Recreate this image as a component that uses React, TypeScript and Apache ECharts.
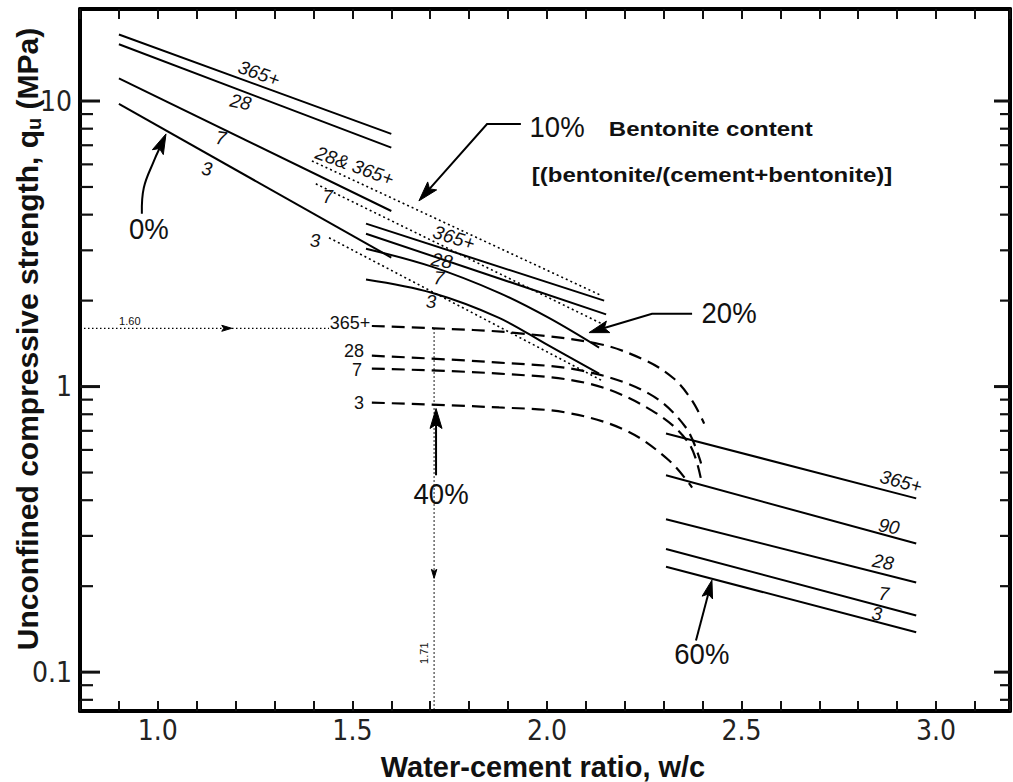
import React, { useEffect, useRef } from 'react';
import * as echarts from 'echarts';

// ---- axis extents & ticks ----
const X_MIN = 0.8;
const X_MAX = 3.19;
const Y_MIN = 0.0731;
const Y_MAX = 21;
const Y_MAJOR = [0.1, 1, 10];
const Y_MINOR = [0.08, 0.09, 0.2, 0.3, 0.4, 0.5, 0.6, 0.7, 0.8, 0.9, 2, 3, 4, 5, 6, 7, 8, 9];

// ---- 0 % bentonite (solid) ----
const b0_365 = [[0.90, 17.1], [1.60, 7.67]];
const b0_28 = [[0.90, 15.8], [1.60, 6.87]];
const b0_7 = [[0.90, 12.0], [1.60, 4.12]];
const b0_3 = [[0.90, 9.77], [1.60, 2.83]];

// ---- 10 % bentonite (dotted) ----
const b10_28_365 = [[1.396, 6.17], [2.141, 2.08]];
const b10_7 = [[1.406, 5.13], [2.141, 1.66]];
const b10_3 = [[1.44, 3.32], [2.141, 1.05]];

// ---- 20 % bentonite (solid) ----
const b20_365 = [[1.535, 3.72], [2.147, 2.0]];
const b20_28 = [[1.535, 3.43], [2.152, 1.79]];
const b20_7 = [[1.535, 3.04], [1.704, 2.63], [1.877, 2.13], [2.005, 1.74], [2.134, 1.37]];
const b20_3 = [[1.535, 2.37], [1.704, 2.13], [1.877, 1.74], [2.005, 1.39], [2.134, 1.11]];

// ---- 40 % bentonite (dashed) ----
const b40_365 = [[1.55, 1.63], [1.71, 1.60], [1.91, 1.545], [2.134, 1.41], [2.254, 1.233], [2.326, 1.067], [2.373, 0.893], [2.404, 0.742]];
const b40_28 = [[1.55, 1.283], [1.877, 1.213], [2.09, 1.137], [2.262, 0.945], [2.357, 0.719], [2.396, 0.538]];
const b40_7 = [[1.55, 1.156], [1.877, 1.11], [2.108, 1.024], [2.27, 0.824], [2.365, 0.632], [2.398, 0.458]];
const b40_3 = [[1.55, 0.879], [1.877, 0.845], [2.049, 0.811], [2.203, 0.702], [2.314, 0.551], [2.373, 0.443]];

// ---- 60 % bentonite (solid) ----
const b60_365 = [[2.306, 0.685], [2.949, 0.406]];
const b60_90 = [[2.306, 0.489], [2.949, 0.282]];
const b60_28 = [[2.306, 0.343], [2.949, 0.206]];
const b60_7 = [[2.306, 0.270], [2.949, 0.158]];
const b60_3 = [[2.306, 0.234], [2.949, 0.138]];

// ---- reading guides (dotted) ----
const guideQu = [[0.8, 1.6], [1.44, 1.6]];
const guideWc = [[1.71, 1.6], [1.71, Y_MIN]];

// ---- curve labels: text, x, y, tilt ----
const LABELS_0 = [['365+', 1.260, 12.5, -20], ['28', 1.213, 9.92, -12], ['7', 1.162, 7.42, -8], ['3', 1.126, 5.79, -8]];
const LABELS_10 = [['28& 365+', 1.506, 5.93, -20], ['7', 1.437, 4.62, 0], ['3', 1.404, 3.24, 0]];
const LABELS_20 = [['365+', 1.761, 3.32, -18], ['28', 1.730, 2.76, -10], ['7', 1.722, 2.40, -5], ['3', 1.702, 1.98, 0]];
const LABELS_40 = [['365+', 1.494, 1.675, 0], ['28', 1.504, 1.335, 0], ['7', 1.512, 1.14, 0], ['3', 1.517, 0.879, 0]];
const LABELS_60 = [['365+', 2.910, 0.465, -15], ['90', 2.879, 0.324, -10], ['28', 2.864, 0.243, -10], ['7', 2.866, 0.188, -5], ['3', 2.848, 0.160, -5]];

// ---- group annotations ----
const PCT_TEXT = [['0%', 0.977, 3.57], ['10%', 2.026, 8.11], ['20%', 2.468, 1.815], ['40%', 1.728, 0.423], ['60%', 2.398, 0.1156]];
const DEF_TEXT = [['Bentonite content', 2.159, 7.98], ['[(bentonite/(cement+bentonite)]', 1.961, 5.51]];
const GUIDE_TEXT = [['1.60', 0.928, 1.70, 0], ['1.71', 1.684, 0.1165, 90]];

// ---- arrows (data coordinates, last point = tip) ----
const ARROWS = [
  [[0.959, 4.03], [0.964, 4.97], [0.990, 6.17], [1.021, 7.67]],
  [[1.933, 8.31], [1.846, 8.31], [1.671, 4.47]],
  [[2.373, 1.80], [2.270, 1.80], [2.108, 1.545]],
  [[1.715, 0.489], [1.715, 0.838]],
  [[2.383, 0.129], [2.424, 0.210]],
  [[1.15, 1.6], [1.19, 1.6]],
  [[1.71, 0.26], [1.71, 0.213]],
];
const ARROW_LOOK = [
  { head: 20, shaft: true, smooth: 0.4 },
  { head: 20, shaft: true, smooth: 0 },
  { head: 20, shaft: true, smooth: 0 },
  { head: 20, shaft: true, smooth: 0 },
  { head: 18, shaft: true, smooth: 0 },
  { head: 10, shaft: false, smooth: 0 },
  { head: 9, shaft: false, smooth: 0 },
];

const TICK_FONT = "'Liberation Sans Narrow', 'DejaVu Sans Condensed', 'Roboto Condensed', sans-serif";
const SANS = "'Liberation Sans', Arial, sans-serif";

const LINE_LOOK: Record<string, any> = {
  solid: { type: 'solid', width: 2 },
  dotted: { type: [2, 3], width: 1.6 },
  dashed: { type: [13, 7], width: 2.2 },
  guide: { type: [1.5, 2.5], width: 1.2 },
};

const CURVES: [string, number[][], string][] = [
  ['0% 365+', b0_365, 'solid'], ['0% 28', b0_28, 'solid'], ['0% 7', b0_7, 'solid'], ['0% 3', b0_3, 'solid'],
  ['10% 28&365+', b10_28_365, 'dotted'], ['10% 7', b10_7, 'dotted'], ['10% 3', b10_3, 'dotted'],
  ['20% 365+', b20_365, 'solid'], ['20% 28', b20_28, 'solid'], ['20% 7', b20_7, 'solid'], ['20% 3', b20_3, 'solid'],
  ['40% 365+', b40_365, 'dashed'], ['40% 28', b40_28, 'dashed'], ['40% 7', b40_7, 'dashed'], ['40% 3', b40_3, 'dashed'],
  ['60% 365+', b60_365, 'solid'], ['60% 90', b60_90, 'solid'], ['60% 28', b60_28, 'solid'], ['60% 7', b60_7, 'solid'], ['60% 3', b60_3, 'solid'],
  ['guide qu', guideQu, 'guide'], ['guide wc', guideWc, 'guide'],
];

const TEXT_LOOK: Record<string, any> = {
  lab: { fontSize: 19, fontFamily: SANS, fontStyle: 'italic', fontWeight: 'normal', align: 'center', scaleX: 1 },
  lab40: { fontSize: 18, fontFamily: SANS, fontStyle: 'normal', fontWeight: 'normal', align: 'center', scaleX: 1 },
  pct: { fontSize: 29, fontFamily: SANS, fontStyle: 'normal', fontWeight: 'normal', align: 'center', scaleX: 0.95 },
  def: { fontSize: 20, fontFamily: SANS, fontStyle: 'normal', fontWeight: 'bold', align: 'left', scaleX: 1.2 },
  guide: { fontSize: 11, fontFamily: SANS, fontStyle: 'normal', fontWeight: 'normal', align: 'center', scaleX: 1 },
};

type TextItem = { t: string; x: number; y: number; a: number; k: string };
const TEXTS: TextItem[] = [
  ...[...LABELS_0, ...LABELS_10, ...LABELS_20, ...LABELS_60].map((l: any) => ({ t: l[0], x: l[1], y: l[2], a: l[3], k: 'lab' })),
  ...LABELS_40.map((l: any) => ({ t: l[0], x: l[1], y: l[2], a: l[3], k: 'lab40' })),
  ...PCT_TEXT.map((l: any) => ({ t: l[0], x: l[1], y: l[2], a: 0, k: 'pct' })),
  ...DEF_TEXT.map((l: any) => ({ t: l[0], x: l[1], y: l[2], a: 0, k: 'def' })),
  ...GUIDE_TEXT.map((l: any) => ({ t: l[0], x: l[1], y: l[2], a: l[3], k: 'guide' })),
];

function fmtX(v: number) {
  const d = v * 10;
  const r = Math.round(d);
  if (Math.abs(d - r) > 1e-6 || r % 5 !== 0) return '';
  return (r / 10).toFixed(1);
}
function fmtY(v: number) {
  return v < 1 ? String(+v.toPrecision(2)) : String(Math.round(v));
}

function buildOption() {
  const axisLine = { show: true, onZero: false, lineStyle: { color: '#000', width: 4 } };
  const xTick = { show: true, inside: true, length: 10, lineStyle: { color: '#111', width: 2 } };

  const lineSeries = CURVES.map(([name, data, kind]) => ({
    name,
    type: 'line',
    data,
    symbol: 'none',
    smooth: data.length > 2 ? 0.35 : false,
    silent: true,
    z: 3,
    lineStyle: { color: '#000', ...LINE_LOOK[kind] },
  }));

  const tickSeries = {
    type: 'custom',
    coordinateSystem: 'cartesian2d',
    silent: true,
    clip: false,
    z: 5,
    data: [...Y_MAJOR.map((v) => [X_MIN, v, 1]), ...Y_MINOR.map((v) => [X_MIN, v, 0])],
    renderItem: (params: any, api: any) => {
      const v = api.value(1);
      const major = api.value(2) === 1;
      const l = api.coord([X_MIN, v]);
      const r = api.coord([X_MAX, v]);
      const ll = major ? 20 : 13;
      const rl = major ? 16 : 10;
      const st = { stroke: '#111', lineWidth: major ? 3 : 2.2 };
      return {
        type: 'group',
        children: [
          { type: 'line', shape: { x1: l[0], y1: l[1], x2: l[0] + ll, y2: l[1] }, style: st },
          { type: 'line', shape: { x1: r[0], y1: r[1], x2: r[0] - rl, y2: r[1] }, style: st },
        ],
      };
    },
  };

  const arrowSeries = {
    type: 'custom',
    coordinateSystem: 'cartesian2d',
    silent: true,
    clip: false,
    z: 6,
    data: ARROWS.map((a) => a[a.length - 1]),
    renderItem: (params: any, api: any) => {
      const a = ARROWS[params.dataIndex];
      const look = ARROW_LOOK[params.dataIndex];
      const pts = a.map((p) => api.coord(p));
      const n = pts.length;
      const tip = pts[n - 1];
      const prev = pts[n - 2];
      const dx = tip[0] - prev[0];
      const dy = tip[1] - prev[1];
      const L = Math.hypot(dx, dy) || 1;
      const ux = dx / L;
      const uy = dy / L;
      const hl = look.head;
      const hw = hl * 0.3;
      const base = [tip[0] - ux * hl * 0.8, tip[1] - uy * hl * 0.8];
      const back = [tip[0] - ux * hl, tip[1] - uy * hl];
      const children: any[] = [];
      if (look.shaft) {
        const shaftPts = pts.slice(0, n - 1).concat([base]);
        children.push({
          type: 'polyline',
          shape: { points: shaftPts, smooth: look.smooth },
          style: { stroke: '#000', lineWidth: 2, fill: null },
        });
      }
      children.push({
        type: 'polygon',
        shape: {
          points: [tip, [back[0] - uy * hw, back[1] + ux * hw], base, [back[0] + uy * hw, back[1] - ux * hw]],
        },
        style: { fill: '#000', stroke: '#000', lineWidth: 1 },
      });
      return { type: 'group', children };
    },
  };

  const textSeries = {
    type: 'custom',
    coordinateSystem: 'cartesian2d',
    silent: true,
    clip: false,
    z: 7,
    data: TEXTS.map((t) => [t.x, t.y]),
    renderItem: (params: any, api: any) => {
      const t = TEXTS[params.dataIndex];
      const s = TEXT_LOOK[t.k];
      const p = api.coord([t.x, t.y]);
      return {
        type: 'text',
        x: p[0],
        y: p[1],
        rotation: (t.a * Math.PI) / 180,
        scaleX: s.scaleX,
        style: {
          text: t.t,
          fontSize: s.fontSize,
          fontFamily: s.fontFamily,
          fontStyle: s.fontStyle,
          fontWeight: s.fontWeight,
          fill: '#111',
          align: s.align,
          verticalAlign: 'middle',
        },
      };
    },
  };

  return {
    animation: false,
    backgroundColor: '#ffffff',
    grid: { left: 80, right: 2, top: 9, bottom: 71, containLabel: false },
    xAxis: [
      {
        type: 'value',
        position: 'bottom',
        min: X_MIN,
        max: X_MAX,
        interval: 0.1,
        axisLine,
        axisTick: xTick,
        axisLabel: {
          interval: 0,
          margin: 5,
          fontSize: 28,
          fontFamily: TICK_FONT,
          color: '#222',
          formatter: fmtX,
        },
        splitLine: { show: false },
      },
      {
        type: 'value',
        position: 'top',
        min: X_MIN,
        max: X_MAX,
        interval: 0.1,
        axisLine,
        axisTick: xTick,
        axisLabel: { show: false },
        splitLine: { show: false },
      },
    ],
    yAxis: [
      {
        type: 'log',
        logBase: 10,
        position: 'left',
        min: Y_MIN,
        max: Y_MAX,
        axisLine,
        axisTick: { show: false },
        minorTick: { show: false },
        axisLabel: {
          margin: 8,
          fontSize: 28,
          fontFamily: TICK_FONT,
          color: '#222',
          showMinLabel: false,
          showMaxLabel: false,
          formatter: fmtY,
        },
        splitLine: { show: false },
      },
      {
        type: 'log',
        logBase: 10,
        position: 'right',
        min: Y_MIN,
        max: Y_MAX,
        axisLine,
        axisTick: { show: false },
        axisLabel: { show: false },
        splitLine: { show: false },
      },
    ],
    graphic: [
      {
        type: 'text',
        x: 27,
        y: 339,
        rotation: Math.PI / 2,
        style: {
          text: 'Unconfined compressive strength, q{sub|u} (MPa)',
          fontSize: 30,
          fontWeight: 'bold',
          fontFamily: SANS,
          fill: '#111',
          align: 'center',
          verticalAlign: 'middle',
          lineHeight: 34,
          rich: {
            sub: { fontSize: 20, fontWeight: 'bold', fontFamily: SANS, fill: '#111', verticalAlign: 'bottom', lineHeight: 14 },
          },
        },
      },
      {
        type: 'text',
        x: 543,
        y: 767,
        style: {
          text: 'Water-cement ratio, w/c',
          fontSize: 29,
          fontWeight: 'bold',
          fontFamily: SANS,
          fill: '#111',
          align: 'center',
          verticalAlign: 'middle',
        },
      },
    ],
    series: [...lineSeries, tickSeries, arrowSeries, textSeries],
  };
}

export default function App() {
  const ref = useRef<HTMLDivElement>(null);
  useEffect(() => {
    const el = ref.current;
    if (!el) return;
    const chart = echarts.init(el, null, { renderer: 'svg' });
    chart.setOption(buildOption() as any);
    return () => chart.dispose();
  }, []);
  return (
    <div
      ref={ref}
      style={{ position: 'fixed', left: 0, top: 0, width: 1013, height: 782, background: '#fff' }}
    />
  );
}
